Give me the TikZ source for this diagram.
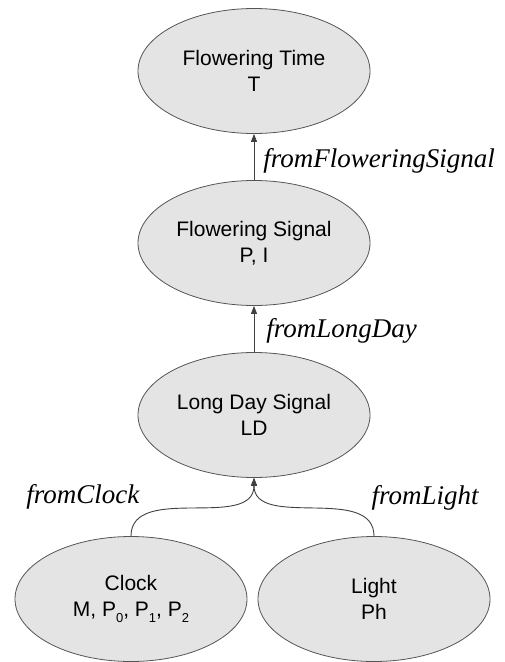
\documentclass[tikz,border=0pt]{standalone}
\usepackage{fontspec}
\setmainfont{Liberation Serif}
\setsansfont{Liberation Sans}
\usetikzlibrary{shapes.geometric,arrows.meta}
\definecolor{nodefill}{HTML}{E4E4E4}
\definecolor{nodeline}{HTML}{555555}
\definecolor{edgeline}{HTML}{404040}

\begin{document}
\begin{tikzpicture}[->,>={Triangle[length=8pt,width=6pt]},node distance=172pt]
    \tikzstyle{every node}=[inner sep=2pt]
    \tikzstyle{signal}=[
        draw=nodeline,
        fill=nodefill,
        shape=ellipse,
        line width=0.8pt,
        minimum width=232pt,
        minimum height=125pt,
        align=center,
        font=\sffamily\fontsize{21}{26}\selectfont]
    \tikzstyle{every edge}=[draw=edgeline,line width=0.9pt]
    \newcommand{\ev}[1]{\fontsize{27}{30}\selectfont\textit{#1}}
    \newcommand{\lowsub}[1]{\raisebox{-6pt}{\fontsize{13}{13}\selectfont #1}}

    \useasboundingbox (0,0) rectangle (505pt,-662pt);
    \node[signal] at (254pt,-71pt) (ft) {Flowering Time\\T};
    \node[signal] [below of=ft] (fs) {Flowering Signal\\P, I};
    \node[signal] [below of=fs] (ld) {Long Day Signal\\LD};
    \node[signal] [below of=ld,yshift=-12pt,xshift=-123pt] (clock)
        {Clock\\M, P\lowsub{0}, P\lowsub{1}, P\lowsub{2}};
    \node[signal] [below of=ld,yshift=-12pt,xshift=120pt] (light) {Light\\Ph};
    \path (fs) edge node[right,xshift=7pt,yshift=-4pt]{\ev{fromFloweringSignal}} (ft)
          (ld) edge node[right,xshift=10pt,yshift=-2pt]{\ev{fromLongDay}} (fs)
          (clock) edge[out=90,in=-90] node[near start,above left,xshift=-8pt]{\ev{fromClock}} (ld)
          (light) edge[out=90,in=-90] node[near start,above right,xshift=14pt]{\ev{fromLight}} (ld);
\end{tikzpicture}
\end{document}
